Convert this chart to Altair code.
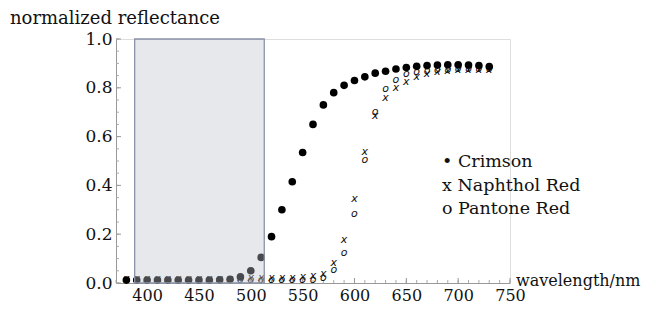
import altair as alt
import pandas as pd

# wavelengths (nm)
wavelength = list(range(380, 740, 10))

crimson = [0.012, 0.012, 0.012, 0.012, 0.012, 0.012, 0.012, 0.012, 0.012, 0.013,
           0.015, 0.025, 0.05, 0.105, 0.19, 0.30, 0.415, 0.535, 0.65, 0.73,
           0.78, 0.81, 0.83, 0.845, 0.86, 0.868, 0.877, 0.883, 0.888, 0.891,
           0.893, 0.894, 0.894, 0.893, 0.891, 0.887]

naphthol = [0.015, 0.015, 0.015, 0.015, 0.015, 0.015, 0.015, 0.015, 0.015, 0.015,
            0.018, 0.02, 0.022, 0.022, 0.022, 0.022, 0.022, 0.024, 0.029, 0.037,
            0.082, 0.177, 0.345, 0.538, 0.685, 0.76, 0.80, 0.825, 0.843, 0.856,
            0.864, 0.868, 0.872, 0.874, 0.875, 0.875]

pantone = [0.012, 0.012, 0.012, 0.012, 0.012, 0.012, 0.012, 0.012, 0.012, 0.012,
           0.012, 0.012, 0.012, 0.012, 0.012, 0.012, 0.012, 0.012, 0.012, 0.02,
           0.053, 0.123, 0.284, 0.506, 0.70, 0.794, 0.83, 0.855, 0.866, 0.87,
           0.873, 0.875, 0.876, 0.877, 0.877, 0.877]

band = [388, 513]           # shaded wavelength band
band_r = [0.0, 1.0]

x_ticks = [400, 450, 500, 550, 600, 650, 700, 750]
x_minor = list(range(370, 751, 10))
y_ticks = [0.0, 0.2, 0.4, 0.6, 0.8, 1.0]
y_minor = [round(i * 0.05, 2) for i in range(21)]

legend_lines = ["\u2022 Crimson", "x Naphthol Red", "o Pantone Red"]
y_title = "normalized reflectance"
x_title = "wavelength/nm"

SERIF = "DejaVu Serif"
W, H = 394, 244

xs = alt.Scale(domain=[370, 750], nice=False, zero=False)
ys = alt.Scale(domain=[0, 1.0], nice=False)
xaxis = alt.Axis(values=x_ticks, format="d", labelFont=SERIF, labelFontSize=16,
                 labelColor="#111", domainColor="#999", domainWidth=1, ticks=False,
                 tickSize=0, grid=False, title=None, labelPadding=4, labelFlush=False)
yaxis = alt.Axis(values=y_ticks, format=".1f", labelFont=SERIF, labelFontSize=17,
                 labelColor="#111", domainColor="#999", domainWidth=1, ticks=False,
                 tickSize=0, grid=False, title=None, labelPadding=4, labelFlush=False)
X = alt.X("wl:Q", scale=xs, axis=xaxis)
Y = alt.Y("r:Q", scale=ys, axis=yaxis)

cdf = pd.DataFrame({"wl": wavelength, "r": crimson})
ndf = pd.DataFrame({"wl": wavelength, "r": naphthol, "m": ["x"] * len(wavelength)})
pdf = pd.DataFrame({"wl": wavelength, "r": pantone, "m": ["o"] * len(wavelength)})

pant = alt.Chart(pdf).mark_text(font="DejaVu Sans", fontSize=11, fontStyle="italic",
                                baseline="alphabetic", dy=3, fill="#111").encode(x=X, y=Y, text="m:N")
naph = alt.Chart(ndf).mark_text(font="DejaVu Sans", fontSize=11, fontStyle="italic",
                                baseline="alphabetic", dy=3, fill="#111").encode(x=X, y=Y, text="m:N")
crim = alt.Chart(cdf).mark_circle(size=58, color="black", opacity=1).encode(x=X, y=Y)

rect = alt.Chart(pd.DataFrame({"wl": [band[0]], "wl2": [band[1]], "r": [band_r[0]], "r2": [band_r[1]]})).mark_rect(
    fill="#bfc2cd", fillOpacity=0.38, stroke="#8a93a8", strokeWidth=1.3
).encode(x=X, x2="wl2:Q", y=Y, y2="r2:Q")

ymaj = alt.Chart(pd.DataFrame({"r": y_ticks})).mark_rule(color="#999", strokeWidth=1).encode(
    y=Y, x=alt.value(0), x2=alt.value(5))
ymin = alt.Chart(pd.DataFrame({"r": y_minor})).mark_rule(color="#aaa", strokeWidth=1).encode(
    y=Y, x=alt.value(0), x2=alt.value(3))
xmaj = alt.Chart(pd.DataFrame({"wl": x_ticks})).mark_rule(color="#999", strokeWidth=1).encode(
    x=X, y=alt.value(H), y2=alt.value(H - 5))
xmin = alt.Chart(pd.DataFrame({"wl": x_minor})).mark_rule(color="#aaa", strokeWidth=1).encode(
    x=X, y=alt.value(H), y2=alt.value(H - 3))

ytitle = alt.Chart(alt.Data(values=[{"t": y_title}])).mark_text(
    font=SERIF, fontSize=18, align="left", baseline="alphabetic", color="#111"
).encode(text="t:N", x=alt.value(-106), y=alt.value(-15))
xtitle = alt.Chart(alt.Data(values=[{"t": x_title}])).mark_text(
    font=SERIF, fontSize=16, align="left", baseline="alphabetic", color="#111"
).encode(text="t:N", x=alt.value(400), y=alt.value(247))

leg = []
for i, s in enumerate(legend_lines):
    leg.append(alt.Chart(alt.Data(values=[{"t": s}])).mark_text(
        font=SERIF, fontSize=17.5, align="left", baseline="alphabetic", color="#111"
    ).encode(text="t:N", x=alt.value(326), y=alt.value(128 + i * 23.5)))

chart = alt.layer(
    ymin, ymaj, xmin, xmaj, pant, naph, crim, rect, ytitle, xtitle, *leg
).properties(
    width=W, height=H,
    autosize=alt.AutoSizeParams(type="none"),
    padding={"left": 108, "top": 31, "right": 138, "bottom": 20},
).configure_view(stroke=None).configure(background="white")

chart.save("out.html", embed_options={"renderer": "svg", "actions": False})
